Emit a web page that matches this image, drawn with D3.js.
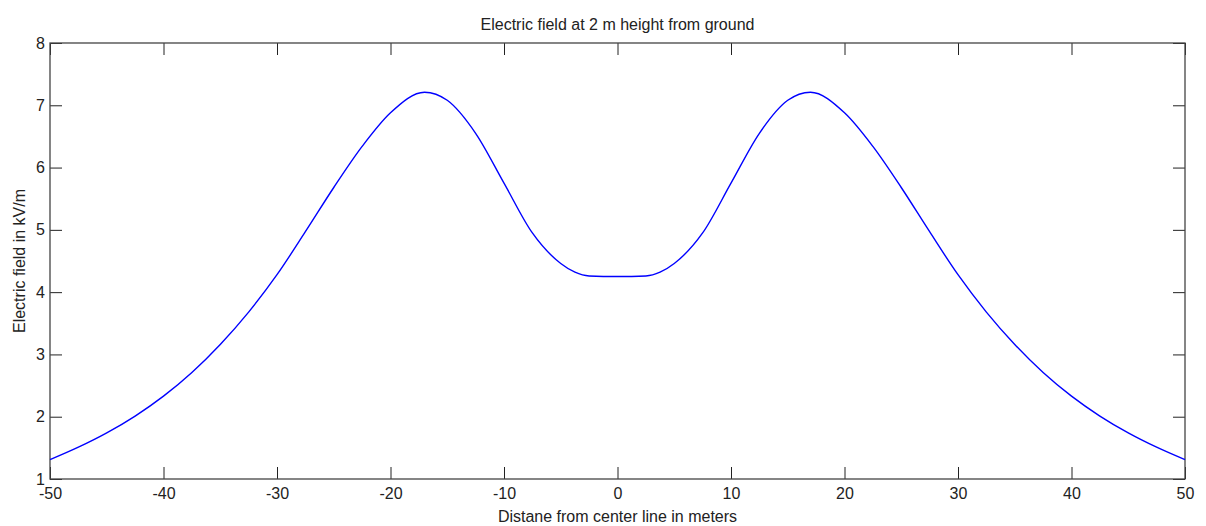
<!DOCTYPE html>
<html>
<head>
<meta charset="utf-8">
<script src="https://cdn.jsdelivr.net/npm/d3@7"></script>
<style>
  body { margin: 0; background: #fff; }
  text { font-family: "Liberation Sans", Arial, sans-serif; fill: #222; }
</style>
</head>
<body>
<script>
// distance from center line (m)
var distances = [-50, -47.5, -45, -42.5, -40, -37.5, -35, -32.5, -30, -27.5, -25, -22.5, -20, -17, -15, -12.5, -10, -7.5, -5, -3.75, -2.5, 0,
  2.5, 3.75, 5, 7.5, 10, 12.5, 15, 17, 20, 22.5, 25, 27.5, 30, 32.5, 35, 37.5, 40, 42.5, 45, 47.5, 50];
// electric field (kV/m)
var fieldValues = [1.31, 1.51, 1.74, 2.01, 2.33, 2.71, 3.16, 3.68, 4.28, 4.97, 5.68, 6.34, 6.88, 7.21, 7.08, 6.55, 5.75, 4.95, 4.46, 4.32, 4.26, 4.25,
  4.26, 4.32, 4.46, 4.95, 5.75, 6.55, 7.08, 7.21, 6.88, 6.34, 5.68, 4.97, 4.28, 3.68, 3.16, 2.71, 2.33, 2.01, 1.74, 1.51, 1.31];
var xTicks = [-50, -40, -30, -20, -10, 0, 10, 20, 30, 40, 50];
var yTicks = [1, 2, 3, 4, 5, 6, 7, 8];

var width = 1206, height = 526;
var margin = { left: 50, right: 21, top: 43, bottom: 47 };

var svg = d3.select("body").append("svg")
  .attr("width", width)
  .attr("height", height);

var x = d3.scaleLinear().domain([-50, 50]).range([margin.left, width - margin.right]);
var y = d3.scaleLinear().domain([1, 8]).range([height - margin.bottom, margin.top]);

var tickLen = 12;
var fmt = function (d) { return String(d); }; // plain hyphen minus, no decimals

// inner ticks on all four sides
function styleAxis(g) {
  g.select(".domain").remove();
  g.selectAll(".tick line").attr("stroke", "#222");
  g.selectAll(".tick text").attr("font-size", 16).attr("fill", "#222")
    .style("font-family", "'Liberation Sans', Arial, sans-serif");
}

svg.append("g")
  .attr("transform", "translate(0," + y(1) + ")")
  .call(d3.axisBottom(x).tickValues(xTicks).tickSize(-tickLen).tickPadding(9).tickFormat(fmt))
  .call(styleAxis);

svg.append("g")
  .attr("transform", "translate(0," + y(8) + ")")
  .call(d3.axisTop(x).tickValues(xTicks).tickSize(-tickLen).tickFormat(""))
  .call(styleAxis);

svg.append("g")
  .attr("transform", "translate(" + x(-50) + ",0)")
  .call(d3.axisLeft(y).tickValues(yTicks).tickSize(-tickLen).tickPadding(5).tickFormat(fmt))
  .call(styleAxis);

svg.append("g")
  .attr("transform", "translate(" + x(50) + ",0)")
  .call(d3.axisRight(y).tickValues(yTicks).tickSize(-tickLen).tickFormat(""))
  .call(styleAxis);

// frame
svg.append("rect")
  .attr("x", x(-50))
  .attr("y", y(8))
  .attr("width", x(50) - x(-50))
  .attr("height", y(1) - y(8))
  .attr("fill", "none")
  .attr("stroke", "#444")
  .attr("stroke-width", 1.3);

var points = distances.map(function (d, i) { return { x: d, v: fieldValues[i] }; });

var line = d3.line()
  .x(function (d) { return x(d.x); })
  .y(function (d) { return y(d.v); })
  .curve(d3.curveMonotoneX);

svg.append("path")
  .datum(points)
  .attr("d", line)
  .attr("fill", "none")
  .attr("stroke", "#0000ff")
  .attr("stroke-width", 1.4);

svg.append("text")
  .attr("x", (x(-50) + x(50)) / 2)
  .attr("y", 30)
  .attr("text-anchor", "middle")
  .attr("font-size", 16)
  .text("Electric field at 2 m height from ground");

svg.append("text")
  .attr("x", (x(-50) + x(50)) / 2)
  .attr("y", 522)
  .attr("text-anchor", "middle")
  .attr("font-size", 16)
  .text("Distane from center line in meters");

svg.append("text")
  .attr("transform", "translate(25," + (y(1) + y(8)) / 2 + ") rotate(-90)")
  .attr("text-anchor", "middle")
  .attr("font-size", 16)
  .text("Electric field in kV/m");
</script>
</body>
</html>
